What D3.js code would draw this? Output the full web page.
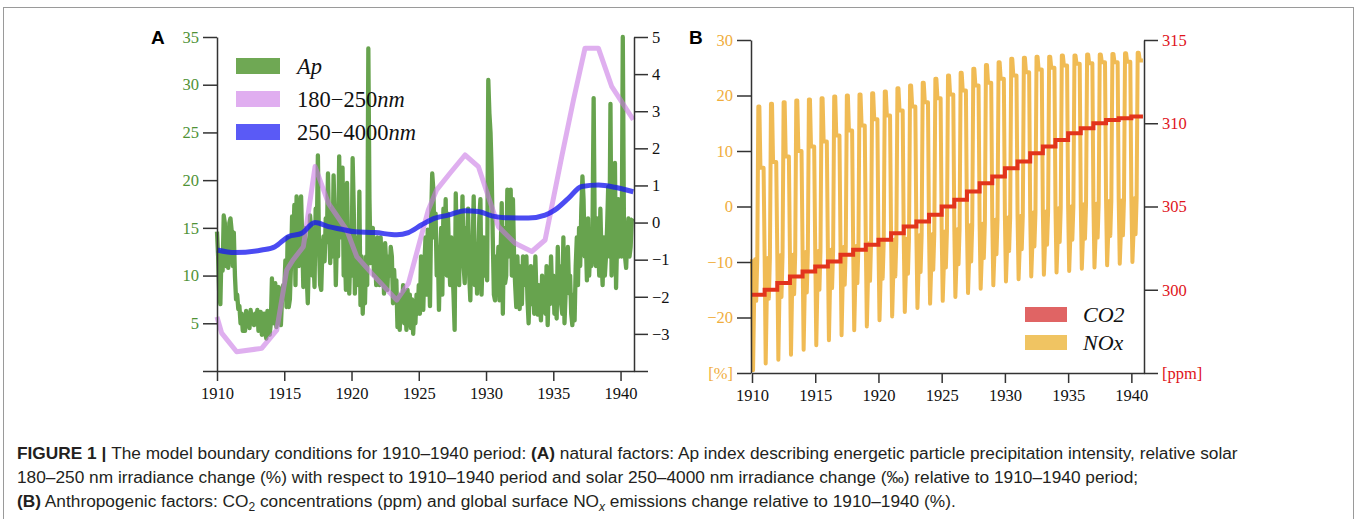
<!DOCTYPE html>
<html><head><meta charset="utf-8">
<script src="https://cdn.jsdelivr.net/npm/d3@7"></script>
<style>
html,body{margin:0;padding:0;background:#fff;}
svg{display:block;}
</style></head><body>
<svg id="c" width="1358" height="519"></svg>
<script>
// ---------------- DATA ----------------
const xTicks = [1910, 1915, 1920, 1925, 1930, 1935, 1940];
const apTicks = [0, 5, 10, 15, 20, 25, 30, 35];
const solarTicks = [-4, -3, -2, -1, 0, 1, 2, 3, 4, 5];
const noxTicks = [-30, -20, -10, 0, 10, 20, 30];
const co2Ticks = [295, 300, 305, 310, 315];

// Ap index, monthly 1910-1940 (one row per year)
const apValues = [
  14.6, 12.0, 8.0, 7.0, 12.5, 10.5, 16.3, 15.5, 11.0, 12.5, 10.8, 15.5,
  16.0, 14.8, 11.0, 14.5, 10.0, 7.5, 8.0, 6.5, 6.8, 5.0, 6.0, 4.2,
  5.5, 4.2, 6.3, 5.0, 5.8, 4.5, 6.4, 5.2, 5.5, 4.8, 6.0, 5.0,
  6.4, 4.2, 5.5, 6.2, 3.8, 5.0, 6.0, 4.0, 3.4, 6.3, 4.5, 3.8,
  5.0, 9.7, 6.0, 5.0, 9.2, 4.6, 7.0, 8.8, 6.0, 4.8, 7.5, 9.0,
  8.5, 11.6, 6.7, 14.0, 6.7, 7.5, 11.0, 16.2, 13.0, 17.4, 9.0, 18.3,
  16.9, 11.0, 12.0, 18.3, 14.0, 8.8, 15.0, 13.0, 10.0, 7.1, 12.0, 16.3,
  15.0, 10.0, 12.0, 8.8, 17.0, 14.0, 22.6, 13.0, 9.0, 8.5, 12.7, 14.1,
  11.5, 16.0, 13.5, 20.7, 15.1, 11.3, 17.0, 12.0, 20.5, 16.0, 9.0, 14.0,
  12.0, 22.5, 14.0, 18.0, 21.3, 10.0, 13.0, 8.5, 19.7, 12.0, 8.1, 13.0,
  10.0, 22.3, 17.0, 8.1, 14.0, 12.0, 9.0, 18.8, 6.9, 12.0, 6.0, 10.0,
  7.1, 12.0, 9.0, 33.8, 18.0, 11.3, 14.0, 15.0, 10.0, 12.5, 9.0, 14.0,
  13.0, 9.0, 14.0, 10.0, 12.0, 8.1, 13.4, 11.0, 8.5, 12.0, 10.0, 13.0,
  12.0, 7.1, 10.6, 8.0, 9.5, 4.6, 7.0, 4.3, 8.0, 6.0, 9.0, 5.0,
  7.0, 4.3, 8.5, 6.0, 8.0, 4.5, 7.5, 3.9, 6.5, 5.0, 8.0, 6.0,
  9.0, 6.0, 12.0, 8.0, 6.4, 11.0, 14.0, 8.0, 14.8, 11.3, 6.8, 16.0,
  20.7, 19.0, 14.0, 16.5, 10.0, 13.0, 6.4, 12.0, 15.0, 8.0, 17.0, 13.0,
  18.0, 10.0, 16.5, 12.0, 9.0, 14.0, 11.0, 8.0, 4.3, 18.6, 12.0, 10.0,
  9.0, 16.7, 12.0, 18.3, 11.0, 9.2, 15.0, 13.0, 17.0, 10.0, 7.4, 14.0,
  13.0, 18.3, 9.0, 13.0, 8.1, 12.0, 16.0, 18.0, 8.0, 12.0, 14.0, 10.0,
  12.0, 9.5, 30.5, 27.0, 25.0, 21.0, 14.0, 8.0, 7.4, 12.0, 9.0, 13.0,
  7.4, 12.0, 17.6, 6.0, 15.0, 9.2, 10.0, 19.0, 12.0, 16.0, 19.0, 10.0,
  18.0, 12.0, 9.0, 6.7, 12.0, 8.0, 6.5, 11.0, 7.0, 12.0, 9.0, 10.0,
  12.0, 7.4, 5.0, 9.0, 11.0, 7.0, 10.0, 6.0, 12.0, 8.0, 5.9, 9.0,
  7.0, 5.3, 10.0, 8.0, 9.5, 6.0, 11.0, 4.8, 9.0, 7.0, 12.0, 8.0,
  10.0, 6.0, 9.5, 5.5, 13.0, 8.0, 11.0, 7.0, 6.0, 14.0, 5.0, 8.1,
  8.1, 13.0, 9.0, 10.0, 6.0, 4.8, 8.0, 5.3, 11.0, 14.0, 9.0, 15.0,
  11.0, 17.0, 20.4, 18.0, 12.0, 14.0, 9.5, 16.0, 10.0, 13.0, 11.0, 15.0,
  28.6, 14.0, 11.0, 16.0, 13.0, 10.0, 17.0, 12.0, 9.0, 14.0, 10.0, 12.0,
  15.0, 19.3, 12.0, 28.0, 10.0, 19.3, 13.0, 21.8, 8.7, 14.0, 18.0, 12.0,
  14.0, 12.0, 35.0, 15.8, 12.0, 10.8, 14.0, 16.0, 12.0, 13.0, 15.8, 16.0
];

// 180-250 nm irradiance change (%), right axis
const uvTime  = [1910.0, 1910.35, 1911.46, 1913.32, 1914.44, 1915.18, 1915.67, 1916.42, 1917.29, 1918.28, 1919.64, 1920.39, 1921.5, 1923.36, 1924.23, 1925.71, 1926.33, 1927.32, 1928.44, 1929.43, 1930.17, 1930.92, 1932.16, 1933.4, 1934.39, 1935.63, 1936.5, 1937.36, 1938.35, 1939.35, 1940.95];
const uvValue = [-2.54, -2.98, -3.48, -3.39, -2.9, -1.28, -1.0, -0.65, 1.51, 0.52, -0.2, -0.92, -1.37, -2.09, -1.64, 0.34, 0.88, 1.33, 1.82, 1.51, 0.7, -0.11, -0.56, -0.78, -0.47, 1.78, 3.3, 4.7, 4.7, 3.66, 2.77];

// 250-4000 nm irradiance change (permil), right axis
const visTime  = [1910.0, 1911.34, 1913.32, 1914.31, 1915.3, 1916.3, 1917.29, 1918.28, 1919.27, 1920.26, 1921.75, 1923.36, 1924.23, 1925.22, 1926.21, 1927.2, 1928.44, 1929.43, 1930.42, 1931.41, 1933.15, 1934.39, 1935.13, 1936.12, 1937.11, 1938.35, 1939.59, 1940.95];
const visValue = [-0.74, -0.81, -0.74, -0.65, -0.38, -0.29, 0.0, -0.11, -0.18, -0.25, -0.27, -0.33, -0.27, -0.06, 0.12, 0.2, 0.32, 0.3, 0.18, 0.13, 0.12, 0.2, 0.34, 0.65, 0.97, 1.01, 0.95, 0.83];

// CO2 (ppm), one value per year 1910-1940
const co2Years = [1910,1911,1912,1913,1914,1915,1916,1917,1918,1919,1920,1921,1922,1923,1924,1925,1926,1927,1928,1929,1930,1931,1932,1933,1934,1935,1936,1937,1938,1939,1940];
const co2Values = [299.7, 300.0, 300.4, 300.8, 301.1, 301.4, 301.7, 302.1, 302.4, 302.7, 303.0, 303.4, 303.8, 304.1, 304.5, 305.0, 305.4, 305.9, 306.4, 306.8, 307.3, 307.7, 308.2, 308.6, 309.0, 309.4, 309.7, 310.0, 310.2, 310.3, 310.4];

// NOx emission change (%), characteristic monthly levels per year 1910-1940
const noxPeak     = [18.0, 18.5, 18.8, 19.1, 19.3, 19.5, 19.8, 20.0, 20.2, 20.4, 20.7, 21.3, 21.8, 22.3, 23.0, 23.6, 24.1, 24.8, 25.5, 26.0, 26.6, 26.8, 27.0, 27.0, 27.2, 27.2, 27.4, 27.4, 27.5, 27.6, 27.7];
const noxShoulder = [7.0, 8.0, 9.0, 10.0, 10.8, 11.7, 12.8, 13.7, 14.6, 15.7, 16.4, 17.3, 18.0, 18.8, 19.5, 20.2, 20.9, 21.8, 22.3, 23.0, 23.6, 24.2, 24.7, 25.0, 25.4, 25.7, 25.8, 26.0, 26.0, 26.1, 26.3];
const noxLow      = [-29.5, -28.3, -27.6, -26.7, -25.8, -25.0, -24.1, -23.2, -22.3, -21.6, -20.5, -19.8, -19.0, -18.3, -17.5, -17.0, -16.3, -15.6, -14.8, -14.2, -13.5, -13.1, -12.6, -12.3, -11.9, -11.6, -11.2, -11.0, -10.6, -10.3, -10.0];
const noxMidHigh  = [-9.5, -9.3, -8.8, -8.7, -8.2, -8.0, -7.8, -7.3, -7.1, -6.6, -6.5, -6.0, -5.8, -5.2, -5.0, -4.5, -4.1, -3.4, -3.1, -2.4, -2.0, -1.7, -1.1, -0.9, -0.3, 0.0, 0.4, 0.5, 1.0, 1.1, 1.5];
const noxMidLow   = [-17.0, -16.6, -16.3, -15.8, -15.5, -15.0, -14.7, -14.1, -13.8, -13.4, -13.0, -12.6, -12.1, -11.8, -11.4, -11.0, -10.4, -9.9, -9.3, -8.6, -8.0, -7.7, -7.2, -6.9, -6.4, -6.0, -5.8, -5.6, -5.3, -5.2, -5.0];
const noxMonthPattern = ["mid", "low", "midLow", "mid", "midLow", "mid", "peak", "peak", "shoulder", "shoulder", "shoulder", "shoulder"];

// ---------------- CHART ----------------
const svg = d3.select("#c");
const serif = "'Liberation Serif', 'Times New Roman', serif";
const axisColor = "#333";

svg.append("rect").attr("x", 3.5).attr("y", 7.5).attr("width", 1350).attr("height", 530)
  .attr("fill", "none").attr("stroke", "#9a9a9a").attr("stroke-width", 1);

function styleAxis(g, color) {
  g.select(".domain").attr("stroke", axisColor).attr("stroke-width", 1.5);
  g.selectAll(".tick line").attr("stroke", axisColor).attr("stroke-width", 1.5);
  g.selectAll(".tick text").attr("fill", color)
    .style("font-family", serif).style("font-size", "16.5px");
}
const fmt = d3.format("d");

// ----- Panel A -----
const xA = d3.scaleLinear().domain([1910, 1941]).range([217, 634]);
const yA = d3.scaleLinear().domain([0, 35]).range([371, 37]);
const yA2 = d3.scaleLinear().domain([-4, 5]).range([371, 37]);

const apPts = apValues.map((v, i) => ({ t: 1910 + i / 12, v }));
svg.append("path").datum(apPts)
  .attr("d", d3.line().x(d => xA(d.t)).y(d => yA(d.v)))
  .attr("fill", "none").attr("stroke", "#5f9e45").attr("stroke-width", 4.3)
  .attr("stroke-linejoin", "round").attr("opacity", 0.95);

const uvPts = uvTime.map((t, i) => ({ t, v: uvValue[i] }));
svg.append("path").datum(uvPts)
  .attr("d", d3.line().x(d => xA(d.t)).y(d => yA2(d.v)))
  .attr("fill", "none").attr("stroke", "#c97ae4").attr("stroke-width", 5)
  .attr("stroke-linejoin", "round").attr("opacity", 0.6);

const visPts = visTime.map((t, i) => ({ t, v: visValue[i] }));
svg.append("path").datum(visPts)
  .attr("d", d3.line().x(d => xA(d.t)).y(d => yA2(d.v)).curve(d3.curveMonotoneX))
  .attr("fill", "none").attr("stroke", "#1818ee").attr("stroke-width", 5)
  .attr("stroke-linejoin", "round").attr("opacity", 0.78);

const axAL = svg.append("g").attr("transform", "translate(217,0)")
  .call(d3.axisLeft(yA).tickValues(apTicks).tickFormat(d => d === 0 ? "" : fmt(d))
    .tickSize(14).tickSizeOuter(0).tickPadding(4));
styleAxis(axAL, "#4f9236");
const axAR = svg.append("g").attr("transform", "translate(634,0)")
  .call(d3.axisRight(yA2).tickValues(solarTicks).tickFormat(d => d === -4 ? "" : fmt(d))
    .tickSize(14).tickSizeOuter(0).tickPadding(4));
styleAxis(axAR, "#111");
const axAB = svg.append("g").attr("transform", "translate(0,371)")
  .call(d3.axisBottom(xA).tickValues(xTicks).tickFormat(fmt)
    .tickSize(10).tickSizeOuter(0).tickPadding(6));
styleAxis(axAB, "#111");

// Legend A
const legA = [
  { c: "#6fa854", parts: [["Ap", true]] },
  { c: "#e0aef0", parts: [["180−250", false], ["nm", true]] },
  { c: "#5a5af6", parts: [["250−4000", false], ["nm", true]] }
];
legA.forEach((d, i) => {
  const y = 58 + i * 33;
  svg.append("rect").attr("x", 236).attr("y", y).attr("width", 44).attr("height", 16).attr("fill", d.c);
  const t = svg.append("text").attr("x", 297).attr("y", y + 16)
    .style("font-family", serif).style("font-size", "22.5px").attr("fill", "#111");
  d.parts.forEach(p => t.append("tspan").text(p[0]).style("font-style", p[1] ? "italic" : "normal"));
});

svg.append("text").attr("x", 151).attr("y", 44).text("A")
  .style("font-family", "'Liberation Sans', Arial, sans-serif").style("font-weight", "bold").style("font-size", "19px");

// ----- Panel B -----
const xB = d3.scaleLinear().domain([1910, 1941]).range([752, 1144]);
const yB = d3.scaleLinear().domain([-30, 30]).range([373, 40]);
const yB2 = d3.scaleLinear().domain([295, 315]).range([373, 40]);

const noxPts = [];
co2Years.forEach((yr, i) => {
  const lv = { mid: noxMidHigh[i], low: noxLow[i], midLow: noxMidLow[i], peak: noxPeak[i], shoulder: noxShoulder[i] };
  noxMonthPattern.forEach((k, m) => noxPts.push({ t: yr + m / 12, v: lv[k] }));
});
svg.append("path").datum(noxPts)
  .attr("d", d3.line().x(d => xB(d.t)).y(d => yB(d.v)))
  .attr("fill", "none").attr("stroke", "#efb545").attr("stroke-width", 4)
  .attr("stroke-linejoin", "round").attr("opacity", 0.92);

const co2Pts = co2Years.map((t, i) => ({ t, v: co2Values[i] }));
co2Pts.push({ t: 1940 + 11 / 12, v: co2Values[co2Values.length - 1] });
svg.append("path").datum(co2Pts)
  .attr("d", d3.line().x(d => xB(d.t)).y(d => yB2(d.v)).curve(d3.curveStepAfter))
  .attr("fill", "none").attr("stroke", "#e2341c").attr("stroke-width", 4);

const axBL = svg.append("g").attr("transform", "translate(751,0)")
  .call(d3.axisLeft(yB).tickValues(noxTicks).tickFormat(d => d === -30 ? "[%]" : fmt(d))
    .tickSize(14).tickSizeOuter(0).tickPadding(4));
styleAxis(axBL, "#f0ad3c");
const axBR = svg.append("g").attr("transform", "translate(1144,0)")
  .call(d3.axisRight(yB2).tickValues(co2Ticks).tickFormat(d => d === 295 ? "[ppm]" : fmt(d))
    .tickSize(14).tickSizeOuter(0).tickPadding(4));
styleAxis(axBR, "#e0141a");
const axBB = svg.append("g").attr("transform", "translate(0,373)")
  .call(d3.axisBottom(xB).tickValues(xTicks).tickFormat(fmt)
    .tickSize(10).tickSizeOuter(0).tickPadding(6));
styleAxis(axBB, "#111");

// Legend B
const legB = [
  { c: "#e06464", label: "CO2" },
  { c: "#f0c462", label: "NOx" }
];
legB.forEach((d, i) => {
  const y = 307 + i * 28;
  svg.append("rect").attr("x", 1025).attr("y", y).attr("width", 42).attr("height", 15).attr("fill", d.c);
  svg.append("text").attr("x", 1083).attr("y", y + 15).text(d.label)
    .style("font-family", serif).style("font-size", "22px").style("font-style", "italic").attr("fill", "#111");
});

svg.append("text").attr("x", 689).attr("y", 44).text("B")
  .style("font-family", "'Liberation Sans', Arial, sans-serif").style("font-weight", "bold").style("font-size", "19px");

// ----- Caption -----
const capFont = "'Liberation Sans Narrow', 'Arial Narrow', 'Liberation Sans', sans-serif";
const capLines = [
  { y: 459, parts: [["FIGURE 1 | ", "b"], ["The model boundary conditions for 1910–1940 period: ", ""], ["(A)", "b"], [" natural factors: Ap index describing energetic particle precipitation intensity, relative solar", ""]] },
  { y: 483, parts: [["180–250 nm irradiance change (%) with respect to 1910–1940 period and solar 250–4000 nm irradiance change (‰) relative to 1910–1940 period;", ""]] },
  { y: 507, parts: [["(B)", "b"], [" Anthropogenic factors: CO", ""], ["2", "sub"], [" concentrations (ppm) and global surface NO", ""], ["x", "subi"], [" emissions change relative to 1910–1940 (%).", ""]] }
];
capLines.forEach(L => {
  const t = svg.append("text").attr("x", 17).attr("y", L.y)
    .style("font-family", capFont).style("font-size", "17.3px").attr("fill", "#231f20");
  L.parts.forEach((p, j) => {
    const s = t.append("tspan").text(p[0]);
    if (p[1] === "b") s.style("font-weight", "bold");
    if (p[1] === "sub" || p[1] === "subi") {
      s.attr("dy", 4).style("font-size", "12px");
      if (p[1] === "subi") s.style("font-style", "italic");
    }
    if (j > 0 && p[1] === "" && (L.parts[j - 1][1] === "sub" || L.parts[j - 1][1] === "subi")) s.attr("dy", -4);
  });
});
</script>
</body></html>
